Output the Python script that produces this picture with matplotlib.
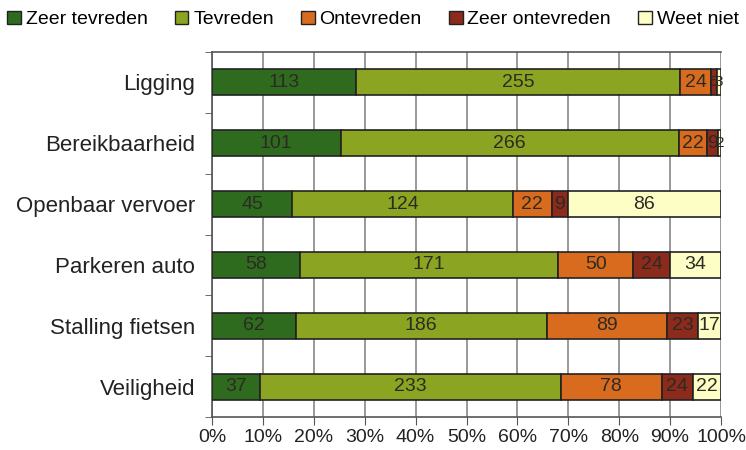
import numpy as np
import matplotlib
matplotlib.use('Agg')
import matplotlib.pyplot as plt
from matplotlib.patches import Patch
from matplotlib.ticker import PercentFormatter

categories = ['Ligging', 'Bereikbaarheid', 'Openbaar vervoer', 'Parkeren auto',
              'Stalling fietsen', 'Veiligheid']
series_names = ['Zeer tevreden', 'Tevreden', 'Ontevreden', 'Zeer ontevreden', 'Weet niet']

zeer_tevreden = [113, 101, 45, 58, 62, 37]
tevreden = [255, 266, 124, 171, 186, 233]
ontevreden = [24, 22, 22, 50, 89, 78]
zeer_ontevreden = [5, 9, 9, 24, 23, 24]
weet_niet = [3, 2, 86, 34, 17, 22]

colors = ['#2f6b1f', '#8ba523', '#d96b1f', '#8c2a1c', '#fdfdc6']

plt.rcParams['font.family'] = ['Liberation Sans', 'DejaVu Sans']

data = np.array([zeer_tevreden, tevreden, ontevreden, zeer_ontevreden, weet_niet], dtype=float)
pct = data / data.sum(axis=0) * 100

fig = plt.figure(figsize=(7.46, 4.5), dpi=100)
ax = fig.add_axes([212 / 746, 1 - 417 / 450, 509 / 746, 365 / 450])

y = np.arange(len(categories))
left = np.zeros(len(categories))
for i, name in enumerate(series_names):
    ax.barh(y, pct[i], left=left, height=0.43, color=colors[i],
            edgecolor='#222222', linewidth=1.2, label=name, zorder=3)
    for j in range(len(categories)):
        # tiny segments get a smaller label, they overlap in the original too
        fs = 14 if pct[i, j] > 2 else 11
        ax.text(left[j] + pct[i, j] / 2, y[j], '%d' % data[i, j], ha='center', va='center',
                fontsize=fs, color='#2b2b22', zorder=4)
    left += pct[i]

ax.set_xlim(0, 100)
ax.set_ylim(len(categories) - 0.5, -0.5)
ax.set_xticks(np.arange(0, 101, 10))
ax.xaxis.set_major_formatter(PercentFormatter(decimals=0))
ax.set_yticks(y)
ax.set_yticklabels(categories, fontsize=16, color='#222222')
ax.set_yticks(np.arange(-0.5, len(categories)), minor=True)
ax.tick_params(axis='y', which='major', length=0, pad=12)
ax.tick_params(axis='y', which='minor', length=5, color='#555555')
ax.tick_params(axis='x', length=6, color='#555555', labelsize=14, pad=3, direction='out',
               labelcolor='#222222')
ax.grid(axis='x', color='#888888', linewidth=1.2, zorder=0)
for s in ['left', 'bottom', 'top']:
    ax.spines[s].set_color('#555555')
    ax.spines[s].set_linewidth(1.2)
ax.spines['right'].set_visible(False)

handles = [Patch(facecolor=c, edgecolor='#222222', label=n) for c, n in zip(colors, series_names)]
fig.legend(handles=handles, loc='upper center', bbox_to_anchor=(0.5, 1.015), ncol=5, frameon=False,
           fontsize=14, handlelength=0.7, handleheight=0.7, handletextpad=0.25, columnspacing=1.4)

fig.savefig('out.png', dpi=100)
